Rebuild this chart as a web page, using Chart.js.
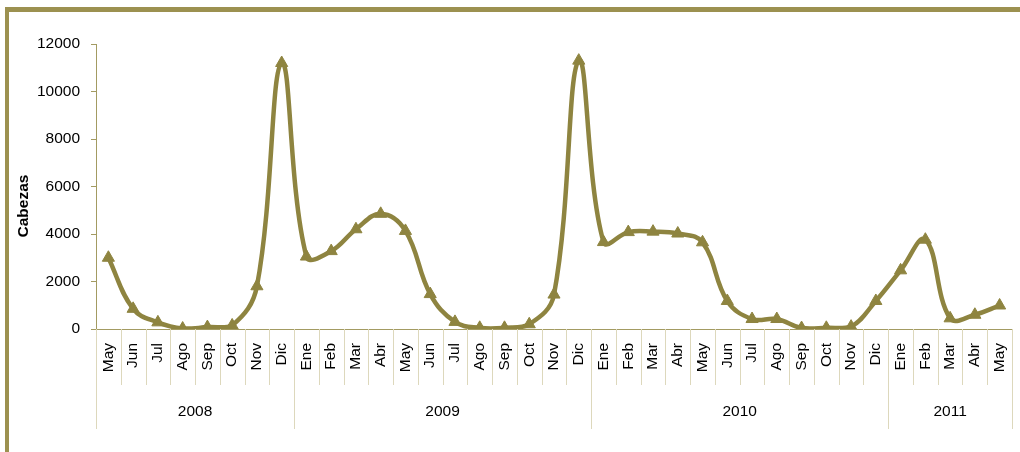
<!DOCTYPE html>
<html>
<head>
<meta charset="utf-8">
<script src="https://cdn.jsdelivr.net/npm/chart.js@4/dist/chart.umd.min.js"></script>
<style>
    html, body { margin: 0; padding: 0; background: #ffffff; }
    #wrap { position: relative; width: 1020px; height: 452px; }
</style>
</head>
<body>
<div id="wrap"><canvas id="chart" width="1020" height="452"></canvas></div>
<script>
// Data
const months = [
    'May', 'Jun', 'Jul', 'Ago', 'Sep', 'Oct', 'Nov', 'Dic',
    'Ene', 'Feb', 'Mar', 'Abr', 'May', 'Jun', 'Jul', 'Ago', 'Sep', 'Oct', 'Nov', 'Dic',
    'Ene', 'Feb', 'Mar', 'Abr', 'May', 'Jun', 'Jul', 'Ago', 'Sep', 'Oct', 'Nov', 'Dic',
    'Ene', 'Feb', 'Mar', 'Abr', 'May'
];
const years = ['2008', '2009', '2010', '2011'];
const monthsPerYear = [8, 12, 12, 5];
const cabezas = [
    3000, 850, 280, 20, 80, 150, 1800, 11200,
    3050, 3280, 4200, 4850, 4130, 1470, 300, 50, 50, 200, 1450, 11300,
    3660, 4080, 4100, 4020, 3650, 1180, 420, 420, 40, 50, 100, 1180,
    2470, 3760, 450, 600, 990
];
const yTicks = [0, 2000, 4000, 6000, 8000, 10000, 12000];

const olive = '#8e8440';
const frameColor = '#9c9150';
const axisColor = '#a39b62';
const sepColor = '#ddd8bc';
const fontFamily = "'Liberation Sans', Arial, sans-serif";
const fontSize = 15.5;

// Frame, y title and year grouping below the month labels
const decorPlugin = {
    id: 'decor',
    beforeDraw(chart) {
        const ctx = chart.ctx;
        ctx.save();
        ctx.fillStyle = frameColor;
        ctx.fillRect(5, 7, 1015, 5);
        ctx.fillRect(5, 7, 4, 445);
        ctx.restore();
    },
    afterDraw(chart) {
        const ctx = chart.ctx;
        const x = chart.scales.x;
        const bottom = chart.chartArea.bottom;
        const step = (x.right - x.left) / months.length;

        ctx.save();
        ctx.lineWidth = 1;
        // month separators
        ctx.strokeStyle = sepColor;
        for (let i = 1; i < months.length; i++) {
            const px = Math.round(x.left + i * step) + 0.5;
            ctx.beginPath();
            ctx.moveTo(px, bottom);
            ctx.lineTo(px, bottom + 56);
            ctx.stroke();
        }
        // year separators and labels
        let idx = 0;
        const bounds = [0];
        monthsPerYear.forEach(n => { idx += n; bounds.push(idx); });
        bounds.forEach(b => {
            const px = Math.round(x.left + b * step) + 0.5;
            ctx.beginPath();
            ctx.moveTo(px, bottom);
            ctx.lineTo(px, bottom + 100);
            ctx.stroke();
        });
        ctx.fillStyle = '#000000';
        ctx.font = `${fontSize}px ${fontFamily}`;
        ctx.textAlign = 'center';
        ctx.textBaseline = 'middle';
        years.forEach((yr, i) => {
            const cx = x.left + (bounds[i] + bounds[i + 1]) / 2 * step;
            ctx.fillText(yr, cx, bottom + 83);
        });

        // y axis title
        ctx.translate(24, 206);
        ctx.rotate(-Math.PI / 2);
        ctx.font = `bold ${fontSize}px ${fontFamily}`;
        ctx.fillText('Cabezas', 0, 0);
        ctx.restore();
    }
};

const ctx = document.getElementById('chart').getContext('2d');
const chart = new Chart(ctx, {
    type: 'line',
    data: {
        labels: months,
        datasets: [{
            label: 'Cabezas',
            data: cabezas,
            borderColor: olive,
            backgroundColor: olive,
            borderWidth: 4.5,
            tension: 0.4,
            pointStyle: 'triangle',
            pointRadius: 7,
            pointBorderWidth: 1,
            pointBackgroundColor: olive,
            pointBorderColor: olive,
            fill: false
        }]
    },
    options: {
        responsive: false,
        animation: false,
        layout: { padding: { left: 0, right: 6, top: 44, bottom: 0 } },
        plugins: {
            legend: { display: false },
            tooltip: { enabled: false }
        },
        scales: {
            x: {
                offset: true,
                grid: { display: false, drawTicks: false },
                border: { display: true, color: axisColor, width: 1 },
                ticks: {
                    color: '#000000',
                    font: { family: fontFamily, size: fontSize },
                    maxRotation: 90,
                    minRotation: 90,
                    autoSkip: false,
                    padding: 14
                },
                afterFit(scale) {
                    scale.height = 123;
                    scale.paddingRight = 0;
                    scale.paddingLeft = 0;
                }
            },
            y: {
                min: 0,
                max: 12000,
                afterBuildTicks(scale) { scale.ticks = yTicks.map(v => ({ value: v })); },
                grid: { drawOnChartArea: false, drawTicks: true, tickLength: 5, color: axisColor },
                border: { display: true, color: axisColor, width: 1 },
                ticks: {
                    color: '#000000',
                    font: { family: fontFamily, size: fontSize },
                    padding: 11,
                    callback: v => String(v)
                },
                afterFit(scale) { scale.width = 96; }
            }
        }
    },
    plugins: [decorPlugin]
});
</script>
</body>
</html>
